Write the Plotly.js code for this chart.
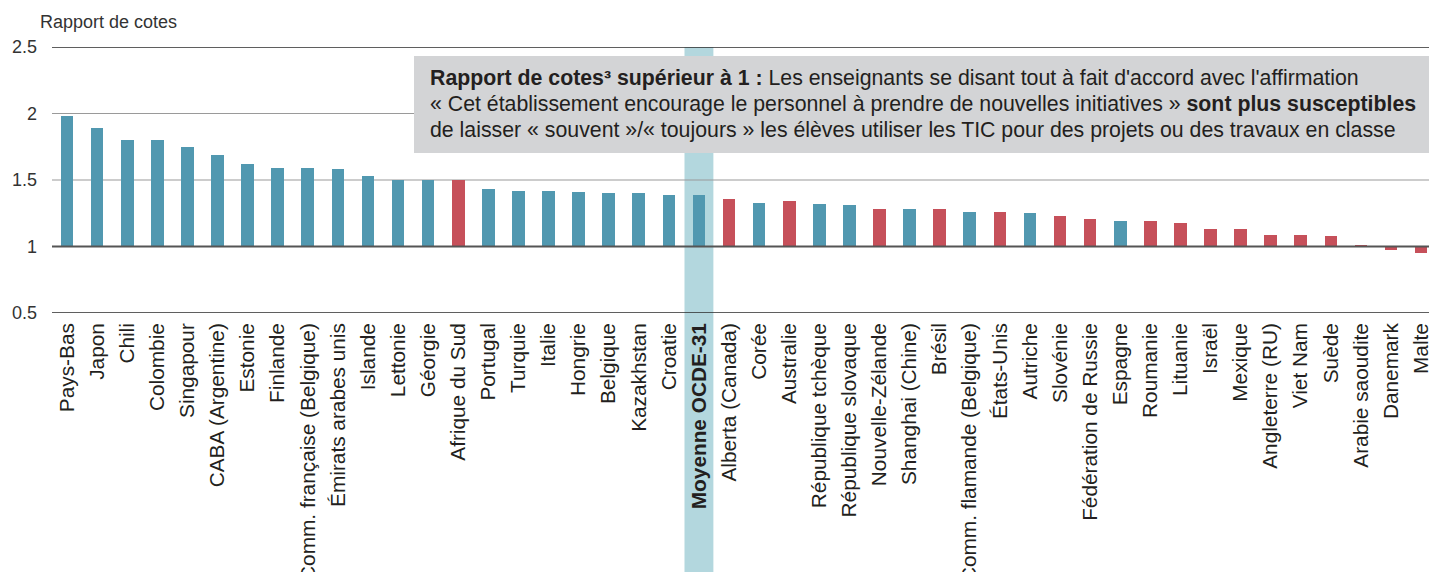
<!DOCTYPE html>
<html>
<head>
<meta charset="utf-8">
<script src="https://cdn.plot.ly/plotly-3.0.1.min.js"></script>
<style>html,body{margin:0;padding:0;background:#fff;}#chart{width:1429px;height:572px;}</style>
</head>
<body>
<div id="chart"></div>
<script>
const categories = ["Pays-Bas","Japon","Chili","Colombie","Singapour","CABA (Argentine)","Estonie","Finlande","Comm. française (Belgique)","Émirats arabes unis","Islande","Lettonie","Géorgie","Afrique du Sud","Portugal","Turquie","Italie","Hongrie","Belgique","Kazakhstan","Croatie","Moyenne OCDE-31","Alberta (Canada)","Corée","Australie","République tchèque","République slovaque","Nouvelle-Zélande","Shanghai (Chine)","Brésil","Comm. flamande (Belgique)","États-Unis","Autriche","Slovénie","Fédération de Russie","Espagne","Roumanie","Lituanie","Israël","Mexique","Angleterre (RU)","Viet Nam","Suède","Arabie saoudite","Danemark","Malte"];
const oddsRatio = [1.98,1.89,1.80,1.80,1.75,1.69,1.62,1.59,1.59,1.58,1.53,1.50,1.50,1.50,1.43,1.42,1.42,1.41,1.40,1.40,1.39,1.39,1.36,1.33,1.34,1.32,1.31,1.28,1.28,1.28,1.26,1.26,1.25,1.23,1.21,1.19,1.19,1.18,1.13,1.13,1.09,1.09,1.08,1.01,0.97,0.95];
const significant = [1,1,1,1,1,1,1,1,1,1,1,1,1,0,1,1,1,1,1,1,1,1,0,1,0,1,1,0,1,0,1,0,1,0,0,1,0,0,0,0,0,0,0,0,0,0];
const yTickVals = [0.5,1,1.5,2,2.5];
const yTickText = ["0.5","1","1.5","2","2.5"];
const averageLabel = "Moyenne OCDE-31";
const baseValue = 1;

const TEAL = "#5198b0", RED = "#c6505a";
const FONT = "Liberation Sans, Arial, sans-serif";
const idx = categories.map((c,i)=>i);
const avgIdx = categories.indexOf(averageLabel);

const trace = {
  type: "bar",
  x: idx,
  y: oddsRatio.map(v => v - baseValue),
  base: baseValue,
  width: 0.42,
  marker: {color: significant.map(s => s ? TEAL : RED)},
  hoverinfo: "skip"
};

const plotLeft = 52, plotRight = 1429, plotTop = 47, plotBottom = 313;
const W = 1429, H = 572;
const pw = plotRight - plotLeft, ph = plotBottom - plotTop;
const px = p => (p - plotLeft) / pw;
const py = p => (plotBottom - p) / ph;

const shapes = [];
shapes.push({type:"rect", xref:"x", yref:"paper", x0: avgIdx - 0.48, x1: avgIdx + 0.48, y0: py(H + 5), y1: 1, fillcolor:"#b3d7de", line:{width:0}, layer:"below"});
yTickVals.forEach(v => {
  let col = "#9a9a9a", w = 1.2, layer = "below";
  if (v === 2.5 || v === 0.5) { col = "#2a2a2a"; w = 1.5; }
  if (v === baseValue) { col = "#555555"; w = 2; layer = "above"; }
  shapes.push({type:"line", xref:"paper", yref:"y", x0:0, x1:1, y0:v, y1:v, line:{color:col, width:w}, layer:layer});
});
shapes.push({type:"rect", xref:"paper", yref:"paper", x0: px(414), x1: 1.02, y0: py(153), y1: py(56), fillcolor:"#d3d4d6", line:{width:0}, layer:"above"});

const noteLines = [
  "<b>Rapport de cotes³ supérieur à 1 :</b> Les enseignants se disant tout à fait d'accord avec l'affirmation",
  "« Cet établissement encourage le personnel à prendre de nouvelles initiatives » <b>sont plus susceptibles</b>",
  "de laisser « souvent »/« toujours » les élèves utiliser les TIC pour des projets ou des travaux en classe"
];
const noteY = [78, 104, 129.5];
const annotations = noteLines.map((t,i) => ({
  xref:"paper", yref:"paper", x: px(428), y: py(noteY[i]), xanchor:"left", yanchor:"middle",
  text: t, showarrow:false, font:{family:FONT, size:21.3, color:"#231f20"}
}));
annotations.push({xref:"paper", yref:"paper", x: px(38), y: py(22), xanchor:"left", yanchor:"middle",
  text:"Rapport de cotes", showarrow:false, font:{family:FONT, size:18, color:"#333"}});

const layout = {
  width: W, height: H,
  margin: {l: plotLeft, r: W - plotRight, t: plotTop, b: H - plotBottom, pad: 0},
  paper_bgcolor: "#fff", plot_bgcolor: "rgba(0,0,0,0)",
  showlegend: false,
  bargap: 0,
  font: {family: FONT, color: "#231f20"},
  xaxis: {
    range: [-0.5, (pw / 30.09) - 0.5],
    tickvals: idx,
    ticktext: categories.map(c => c === averageLabel ? "<b>" + c + "</b>" : c),
    tickangle: -90,
    tickfont: {family: FONT, size: 20.8, color: "#231f20"},
    ticklabeloverflow: "allow",
    ticklabelstandoff: 5,
    showgrid: false, zeroline: false, showline: false, ticks: "", fixedrange: true
  },
  yaxis: {
    range: [0.5, 2.5],
    tickvals: yTickVals, ticktext: yTickText,
    tickfont: {family: FONT, size: 18, color: "#333"},
    showgrid: false, zeroline: false, showline: false, ticks: "",
    ticklabelstandoff: 14, fixedrange: true
  },
  shapes: shapes,
  annotations: annotations
};

Plotly.newPlot("chart", [trace], layout, {displayModeBar: false, staticPlot: true});
</script>
</body>
</html>
